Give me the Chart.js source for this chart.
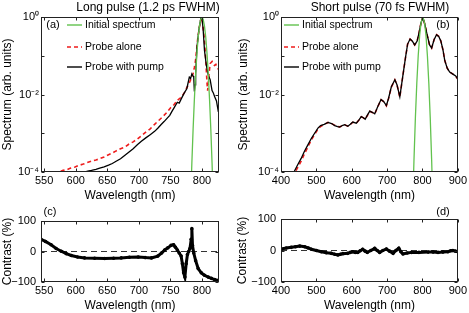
<!DOCTYPE html>
<html>
<head>
<meta charset="utf-8">
<script src="https://cdn.jsdelivr.net/npm/chart.js@4.4.0/dist/chart.umd.min.js"></script>
<style>
  html, body { margin: 0; padding: 0; background: #fff; }
  #wrap { position: relative; width: 469px; height: 313px; overflow: hidden; }
  canvas { position: absolute; }
</style>
</head>
<body>
<div id="wrap">
  <canvas id="chartA" width="234" height="205" style="left:0;top:0;width:234px;height:205px"></canvas>
  <canvas id="chartB" width="235" height="205" style="left:234px;top:0;width:235px;height:205px"></canvas>
  <canvas id="chartC" width="234" height="108" style="left:0;top:205px;width:234px;height:108px"></canvas>
  <canvas id="chartD" width="235" height="108" style="left:234px;top:205px;width:235px;height:108px"></canvas>
</div>
<script>
const FONT = '"Liberation Sans", Arial, sans-serif';

const longRange = [545, 827];
const shortRange = [400, 900];
const longTicks = [550, 600, 650, 700, 750, 800];
const shortTicks = [400, 500, 600, 700, 800, 900];
const logTicks = [1e-4, 1e-3, 1e-2, 1e-1, 1];
const logLabels = { '0': '10⁰', '-2': '10⁻²', '-4': '10⁻⁴' };
const contrastTicks = [-100, 0, 100];
const zeroLevel = [0, 0];
const legendLabels = ['Initial spectrum', 'Probe alone', 'Probe with pump'];

// (a) long pulse
const longInitWl = [782, 784, 786, 788, 790, 792, 794, 796, 798, 800, 802, 804, 806, 808, 810, 812, 814, 816, 818];
const longInit = [1.7e-5, 1.7e-4, 1.3e-3, 7.6e-3, 0.034, 0.115, 0.30, 0.58, 0.87, 1.0, 0.87, 0.58, 0.30, 0.115, 0.034, 7.6e-3, 1.3e-3, 1.7e-4, 1.7e-5];

const longAloneWl = [566, 573, 580, 586, 592, 599, 605, 612, 618, 625, 632, 638, 645, 652, 658, 664, 671, 678, 684, 691, 698, 704, 711, 718, 725, 731, 738, 744, 750, 756, 761, 767, 772, 776, 780, 783, 786, 788, 790, 793, 796, 799, 801, 804, 806, 808, 809, 811, 813, 816, 818, 820, 822, 824, 826];
const longAlone = [8.9e-5, 1.0e-4, 1.1e-4, 1.15e-4, 1.26e-4, 1.35e-4, 1.48e-4, 1.6e-4, 1.74e-4, 1.9e-4, 2.04e-4, 2.2e-4, 2.45e-4, 2.8e-4, 3.09e-4, 3.5e-4, 3.98e-4, 4.4e-4, 5.2e-4, 6.0e-4, 7.2e-4, 8.6e-4, 1.07e-3, 1.3e-3, 1.7e-3, 2.1e-3, 2.69e-3, 3.4e-3, 4.5e-3, 5.5e-3, 7.1e-3, 8.5e-3, 1.1e-2, 1.5e-2, 2.0e-2, 2.6e-2, 3.5e-2, 5.0e-2, 7.9e-2, 0.25, 0.56, 1.0, 0.71, 0.25, 0.079, 0.020, 0.0126, 0.0316, 0.063, 0.071, 0.06, 0.056, 0.06, 0.050, 0.045];

const longPumpWl = [596, 603, 610, 619, 625, 632, 638, 645, 652, 658, 664, 671, 678, 684, 691, 698, 704, 711, 718, 725, 730, 735, 740, 745, 749, 752, 756, 761, 764, 767, 770, 772, 776, 780, 782, 784, 786, 787, 788, 789, 790, 792, 795, 798, 800, 802, 804, 807, 810, 813, 816, 818, 820, 823, 826];
const longPump = [7.9e-5, 8.6e-5, 9.5e-5, 1.05e-4, 1.1e-4, 1.17e-4, 1.25e-4, 1.35e-4, 1.5e-4, 1.66e-4, 1.9e-4, 2.19e-4, 2.7e-4, 3.24e-4, 4.0e-4, 5.1e-4, 6.2e-4, 7.6e-4, 9.2e-4, 1.12e-3, 1.35e-3, 1.66e-3, 2.0e-3, 2.45e-3, 2.9e-3, 3.55e-3, 4.6e-3, 6.3e-3, 6.0e-3, 7.6e-3, 9.5e-3, 1.1e-2, 1.41e-2, 2.82e-2, 2.6e-2, 3.4e-2, 3.0e-2, 2.8e-2, 1.2e-2, 1.78e-2, 3.5e-2, 0.158, 0.45, 0.89, 1.0, 0.45, 0.138, 0.056, 0.0316, 0.024, 0.0126, 0.011, 8.9e-3, 6.8e-3, 3.55e-3];

// (b) short pulse
const shortInitWl = [772, 776, 780, 784, 788, 792, 796, 801, 806, 810, 814, 818, 822, 826, 830];
const shortInit = [1.05e-5, 2.0e-4, 2.5e-3, 0.0195, 0.1, 0.33, 0.71, 1.0, 0.71, 0.33, 0.1, 0.0195, 2.5e-3, 2.0e-4, 1.05e-5];

const shortWl = [434, 445, 457, 466, 476, 486, 495, 505, 512, 522, 533, 543, 552, 560, 566, 573, 580, 589, 596, 603, 613, 620, 627, 633, 638, 645, 651, 658, 665, 674, 683, 690, 698, 704, 712, 722, 728, 736, 744, 752, 758, 765, 771, 778, 785, 790, 796, 801, 807, 813, 820, 826, 833, 840, 846, 852, 858, 863, 870, 877, 885, 894, 901];
const shortPump = [8.9e-5, 1.41e-4, 2.24e-4, 3.39e-4, 5.0e-4, 7.4e-4, 1.0e-3, 1.38e-3, 1.58e-3, 1.70e-3, 1.91e-3, 1.78e-3, 1.58e-3, 1.48e-3, 1.45e-3, 1.58e-3, 1.66e-3, 1.51e-3, 1.70e-3, 1.95e-3, 1.82e-3, 2.19e-3, 2.69e-3, 2.51e-3, 2.29e-3, 3.02e-3, 3.72e-3, 3.47e-3, 3.16e-3, 5.0e-3, 7.4e-3, 6.6e-3, 5.2e-3, 7.9e-3, 1.58e-2, 2.40e-2, 1.78e-2, 8.7e-3, 2.82e-2, 8.9e-2, 0.20, 0.27, 0.24, 0.19, 0.24, 0.38, 0.71, 1.0, 0.63, 0.355, 0.19, 0.158, 0.263, 0.347, 0.316, 0.24, 0.141, 0.076, 0.048, 0.038, 0.034, 0.030, 0.024];
const shortAlone = [7.5e-5, 1.2e-4, 1.9e-4, 2.9e-4, 4.4e-4, 6.8e-4, 9.3e-4, 1.3e-3, 1.5e-3, 1.68e-3, 1.9e-3, 1.78e-3, 1.6e-3, 1.5e-3, 1.46e-3, 1.56e-3, 1.65e-3, 1.52e-3, 1.68e-3, 1.92e-3, 1.82e-3, 2.15e-3, 2.65e-3, 2.5e-3, 2.3e-3, 2.95e-3, 3.68e-3, 3.45e-3, 3.15e-3, 4.9e-3, 7.3e-3, 6.6e-3, 5.1e-3, 7.8e-3, 1.55e-2, 2.38e-2, 1.78e-2, 8.5e-3, 2.8e-2, 8.8e-2, 0.20, 0.27, 0.24, 0.19, 0.24, 0.38, 0.71, 1.0, 0.63, 0.355, 0.19, 0.158, 0.263, 0.347, 0.316, 0.24, 0.141, 0.076, 0.048, 0.038, 0.034, 0.030, 0.024];

// (c) contrast, long pulse
const contrastLongWl = [545, 552, 561, 569, 577, 585, 593, 603, 614, 630, 646, 660, 672, 685, 699, 710, 720, 730, 736, 741, 746, 751, 755, 758, 761, 764, 767, 769, 771, 773, 775, 777, 779, 781, 783, 784, 785, 787, 790, 794, 799, 804, 810, 815, 820, 825];
const contrastLong = [40, 33, 22, 10, 1, -7, -13, -18, -21, -22, -23, -22, -21, -19, -18, -20, -21, -15, -5, 5, 12, 20, 22, 14, 5, -5, -15, -40, -70, -84, -40, -10, 0, 10, 40, 75, 20, -5, -30, -56, -70, -78, -84, -88, -92, -95];

// (d) contrast, short pulse
const contrastShortWl = [401, 415, 429, 441, 453, 467, 477, 486, 500, 514, 528, 542, 552, 561, 568, 575, 589, 596, 603, 610, 617, 624, 631, 638, 644, 654, 665, 672, 679, 688, 698, 707, 717, 725, 733, 739, 745, 757, 769, 790, 816, 830, 844, 858, 872, 880, 886, 893, 900];
const contrastShort = [5, 8, 10, 12, 14, 12, 8, 4, 0, -4, -7, -9, -12, -14, -12, -10, -9, -6, -4, -6, -6, -1, 4, -2, -6, 0, 7, 0, -6, 0, 5, -2, -9, 0, 7, -4, -11, -8, -6, -6, -5, -5, -6, -5, -4, -1, 0, -2, -4];

const GREEN = '#62c24e';
const RED = '#ee1c1c';

function pts(xs, ys) {
    return xs.map((x, i) => ({ x: x, y: ys[i] }));
}

const panelPlugin = {
    id: 'panel',
    afterDatasetsDraw(chart, args, o) {
        const { ctx, chartArea: a, scales } = chart;
        const l = Math.round(a.left) + 0.5, r = Math.round(a.right) - 0.5;
        const t = Math.round(a.top) + 0.5, b = Math.round(a.bottom) - 0.5;
        ctx.save();
        ctx.strokeStyle = '#222';
        ctx.lineWidth = 1;
        ctx.setLineDash([]);
        ctx.strokeRect(l, t, r - l, b - t);
        ctx.beginPath();
        scales.x.ticks.forEach(tk => {
            const px = Math.round(scales.x.getPixelForValue(tk.value)) + 0.5;
            ctx.moveTo(px, b); ctx.lineTo(px, b - 3);
            ctx.moveTo(px, t); ctx.lineTo(px, t + 3);
        });
        scales.y.ticks.forEach(tk => {
            const py = Math.round(scales.y.getPixelForValue(tk.value)) + 0.5;
            ctx.moveTo(l, py); ctx.lineTo(l + 3, py);
            ctx.moveTo(r, py); ctx.lineTo(r - 3, py);
        });
        ctx.stroke();
        ctx.restore();
    },
    afterDraw(chart, args, o) {
        const ctx = chart.ctx;
        ctx.save();
        ctx.fillStyle = '#000';
        ctx.textBaseline = 'middle';
        if (o.title) {
            ctx.font = '12px ' + FONT;
            ctx.textAlign = 'center';
            ctx.fillText(o.title, o.titleX, 8);
        }
        ctx.font = '11px ' + FONT;
        ctx.textAlign = 'center';
        ctx.fillText(o.label, o.labelX, o.labelY);
        if (o.legendX !== undefined) {
            const colors = [GREEN, RED, '#000'];
            const dashes = [[], [4, 3], []];
            const rows = [25, 47, 67];
            ctx.font = '10.5px ' + FONT;
            ctx.textAlign = 'left';
            legendLabels.forEach((txt, i) => {
                ctx.strokeStyle = colors[i];
                ctx.lineWidth = i === 1 ? 1.6 : 1.4;
                ctx.setLineDash(dashes[i]);
                ctx.beginPath();
                ctx.moveTo(o.legendX, rows[i]);
                ctx.lineTo(o.legendX + 15, rows[i]);
                ctx.stroke();
                ctx.fillText(txt, o.legendX + 18, rows[i]);
            });
        }
        ctx.restore();
    }
};

function xAxis(range, ticks, height) {
    return {
        type: 'linear',
        min: range[0],
        max: range[1],
        grid: { display: false, drawTicks: false },
        border: { display: false },
        afterBuildTicks: s => { s.ticks = ticks.map(v => ({ value: v })); },
        afterFit: s => { s.height = height; },
        ticks: { color: '#000', padding: 2, font: { size: 11, family: FONT } },
        title: { display: true, text: 'Wavelength (nm)', color: '#000', padding: 0, font: { size: 12, family: FONT } }
    };
}

function spectrumChart(id, sets, range, ticks, yWidth, titlePad, padding, decor) {
    const ctx = document.getElementById(id).getContext('2d');
    return new Chart(ctx, {
        type: 'line',
        data: {
            datasets: [
                { data: pts(sets[0], sets[1]), borderColor: GREEN, borderWidth: 1.3, order: 0 },
                { data: pts(sets[4], sets[5]), borderColor: '#000', borderWidth: 1.3, order: 1 },
                { data: pts(sets[2], sets[3]), borderColor: RED, borderWidth: 1.6, borderDash: [4, 3], order: 2 }
            ]
        },
        options: {
            responsive: false,
            animation: false,
            layout: { padding: padding },
            elements: { point: { radius: 0 }, line: { tension: 0 } },
            plugins: { legend: { display: false }, tooltip: { enabled: false }, panel: decor },
            scales: {
                x: xAxis(range, ticks, 31),
                y: {
                    type: 'logarithmic',
                    min: 1e-4,
                    max: 1,
                    grid: { display: false, drawTicks: false },
                    border: { display: false },
                    afterBuildTicks: s => { s.ticks = logTicks.map(v => ({ value: v })); },
                    afterFit: s => { s.width = yWidth; },
                    ticks: {
                        color: '#000',
                        padding: 2,
                        font: { size: 11, family: FONT },
                        callback: v => logLabels[String(Math.round(Math.log10(v)))] || ''
                    },
                    title: { display: true, text: 'Spectrum (arb. units)', color: '#000', padding: { top: titlePad, bottom: 0 }, font: { size: 12, family: FONT } }
                }
            }
        },
        plugins: [panelPlugin]
    });
}

function contrastChart(id, wl, vals, range, ticks, yWidth, titlePad, padding, decor) {
    const ctx = document.getElementById(id).getContext('2d');
    return new Chart(ctx, {
        type: 'line',
        data: {
            datasets: [
                { data: pts(wl, vals), borderColor: '#000', borderWidth: 3, pointRadius: 1.8, pointBackgroundColor: '#000', pointBorderWidth: 0, order: 0 },
                { data: pts(range, zeroLevel), borderColor: '#333', borderWidth: 1, borderDash: [6, 4], pointRadius: 0, order: 1 }
            ]
        },
        options: {
            responsive: false,
            animation: false,
            layout: { padding: padding },
            elements: { line: { tension: 0 } },
            plugins: { legend: { display: false }, tooltip: { enabled: false }, panel: decor },
            scales: {
                x: xAxis(range, ticks, 31),
                y: {
                    type: 'linear',
                    min: -100,
                    max: 100,
                    grid: { display: false, drawTicks: false },
                    border: { display: false },
                    afterBuildTicks: s => { s.ticks = contrastTicks.map(v => ({ value: v })); },
                    afterFit: s => { s.width = yWidth; },
                    ticks: { color: '#000', padding: 5, font: { size: 11, family: FONT }, callback: v => String(v).replace('-', '−') },
                    title: { display: true, text: 'Contrast (%)', color: '#000', padding: { top: titlePad, bottom: 0 }, font: { size: 12, family: FONT } }
                }
            }
        },
        plugins: [panelPlugin]
    });
}

spectrumChart('chartA', [longInitWl, longInit, longAloneWl, longAlone, longPumpWl, longPump],
    longRange, longTicks, 41, 0, { left: 0, top: 17, right: 15, bottom: 2 },
    { title: 'Long pulse (1.2 ps FWHM)', titleX: 148, label: '(a)', labelX: 53, labelY: 25, legendX: 67 });

spectrumChart('chartB', [shortInitWl, shortInit, shortWl, shortAlone, shortWl, shortPump],
    shortRange, shortTicks, 47, 2, { left: 0, top: 17, right: 11, bottom: 2 },
    { title: 'Short pulse (70 fs FWHM)', titleX: 146, label: '(b)', labelX: 209, labelY: 25, legendX: 50 });

contrastChart('chartC', contrastLongWl, contrastLong, longRange, longTicks, 41, 0,
    { left: 0, top: 16, right: 15, bottom: 0 }, { label: '(c)', labelX: 50, labelY: 7 });

contrastChart('chartD', contrastShortWl, contrastShort, shortRange, shortTicks, 47, 1,
    { left: 0, top: 14, right: 11, bottom: 0 }, { label: '(d)', labelX: 209, labelY: 7 });
</script>
</body>
</html>
